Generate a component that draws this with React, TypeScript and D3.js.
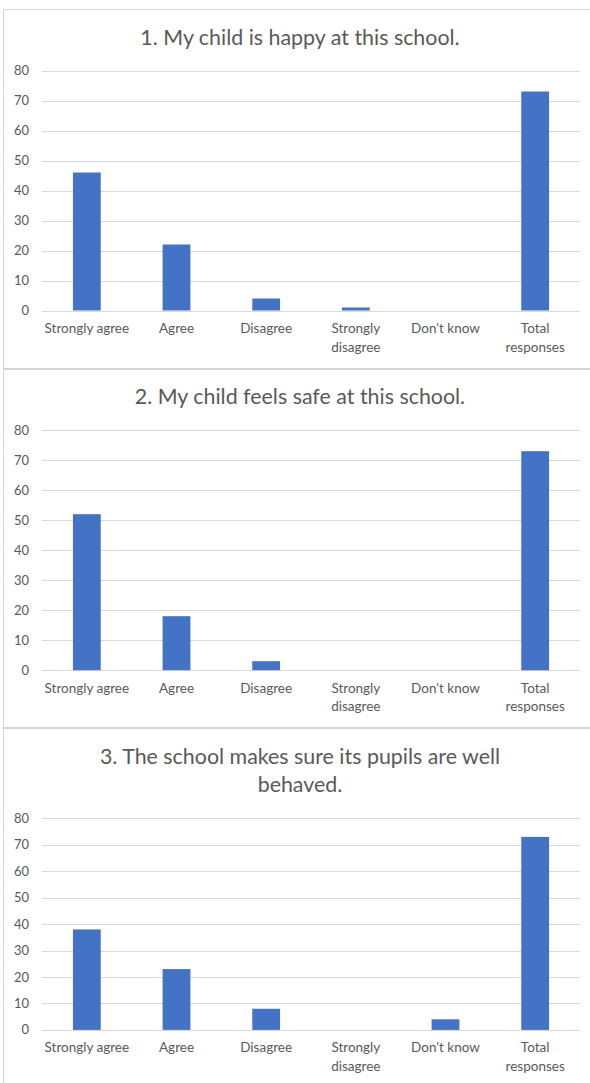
import React from "react";
import * as d3 from "d3";

// Survey questions and response counts per category
const categories = [
  "Strongly agree",
  "Agree",
  "Disagree",
  "Strongly disagree",
  "Don't know",
  "Total responses",
];
const questionTitles = [
  "1. My child is happy at this school.",
  "2. My child feels safe at this school.",
  "3. The school makes sure its pupils are well behaved.",
];
const happyCounts = [46, 22, 4, 1, 0, 73];
const safeCounts = [52, 18, 3, 0, 0, 73];
const behaviourCounts = [38, 23, 8, 0, 4, 73];
const yTickValues = [0, 10, 20, 30, 40, 50, 60, 70, 80];

const seriesByQuestion = [happyCounts, safeCounts, behaviourCounts];

const W = 590;
const H = 1083;
const FONT = "Lato, 'Open Sans', sans-serif";
const TEXT = "#595959";
const GRID = "#d9d9d9";
const BAR = "#4472c4";
const BORDER = "#d4d4d4";

let ctx: CanvasRenderingContext2D | null = null;
function measure(text: string, size: number): number {
  if (!ctx) ctx = document.createElement("canvas").getContext("2d");
  if (!ctx) return text.length * size * 0.5;
  ctx.font = `${size}px Lato`;
  return ctx.measureText(text).width;
}

function wrap(text: string, size: number, maxWidth: number): string[] {
  const words = text.split(" ");
  const lines: string[] = [];
  let cur = "";
  for (const w of words) {
    const next = cur ? cur + " " + w : w;
    if (cur && measure(next, size) > maxWidth) {
      lines.push(cur);
      cur = w;
    } else {
      cur = next;
    }
  }
  if (cur) lines.push(cur);
  return lines;
}

const TITLE_SIZE = 21.4;
const TICK_SIZE = 13;
const CAT_SIZE = 13.5;
const PANEL_H = 359.7;
const PLOT_LEFT = 42;
const PLOT_RIGHT = 580;

function Panel({ index }: { index: number }) {
  const top = 9 + index * PANEL_H;
  const values = seriesByQuestion[index];
  const titleLines = wrap(questionTitles[index], TITLE_SIZE, 440);
  const plotTop = top + 61.5 + (titleLines.length - 1) * 28.5;
  const plotBottom = top + 301.5;

  const x = d3
    .scaleBand<string>()
    .domain(categories)
    .range([PLOT_LEFT, PLOT_RIGHT])
    .paddingInner(0.69)
    .paddingOuter(0.345);
  const y = d3.scaleLinear().domain([0, 80]).range([plotBottom, plotTop]);
  const step = x.step();

  return (
    <g>
      {titleLines.map((line, i) => (
        <text
          key={i}
          x={300}
          y={top + 35.5 + i * 28.5}
          textAnchor="middle"
          fontSize={TITLE_SIZE}
          fill={TEXT}
          fontFamily={FONT}
        >
          {line}
        </text>
      ))}
      {yTickValues.map((t) => (
        <g key={t}>
          <line
            x1={PLOT_LEFT}
            x2={PLOT_RIGHT}
            y1={Math.round(y(t)) + 0.5}
            y2={Math.round(y(t)) + 0.5}
            stroke={GRID}
            strokeWidth={1}
          />
          <text
            x={29}
            y={y(t)}
            dy="0.35em"
            textAnchor="end"
            fontSize={TICK_SIZE}
            fill={TEXT}
            fontFamily={FONT}
          >
            {t}
          </text>
        </g>
      ))}
      {categories.map((c, i) => (
        <rect
          key={c}
          x={x(c)}
          y={y(values[i])}
          width={x.bandwidth()}
          height={plotBottom - y(values[i])}
          fill={BAR}
        />
      ))}
      {categories.map((c) => {
        const cx = (x(c) ?? 0) + x.bandwidth() / 2;
        const lines = wrap(c, CAT_SIZE, step);
        return (
          <text
            key={c}
            textAnchor="middle"
            fontSize={CAT_SIZE}
            fill={TEXT}
            fontFamily={FONT}
          >
            {lines.map((l, j) => (
              <tspan key={j} x={cx} y={plotBottom + 22.5 + j * 18.5}>
                {l}
              </tspan>
            ))}
          </text>
        );
      })}
    </g>
  );
}

export default function App() {
  const panelTops = questionTitles.map((_, i) => 9 + i * PANEL_H);
  return (
    <svg
      width={W}
      height={H}
      style={{ position: "absolute", left: 0, top: 0, background: "#fff" }}
    >
      <rect x={0} y={0} width={W} height={H} fill="#fff" />
      <line x1={3.5} x2={3.5} y1={9} y2={H} stroke={BORDER} strokeWidth={1} />
      {panelTops.map((t, i) => (
        <line
          key={i}
          x1={3}
          x2={W}
          y1={i === 0 ? 9.5 : Math.round(t)}
          y2={i === 0 ? 9.5 : Math.round(t)}
          stroke={BORDER}
          strokeWidth={i === 0 ? 1 : 2}
        />
      ))}
      {questionTitles.map((_, i) => (
        <Panel key={i} index={i} />
      ))}
    </svg>
  );
}
